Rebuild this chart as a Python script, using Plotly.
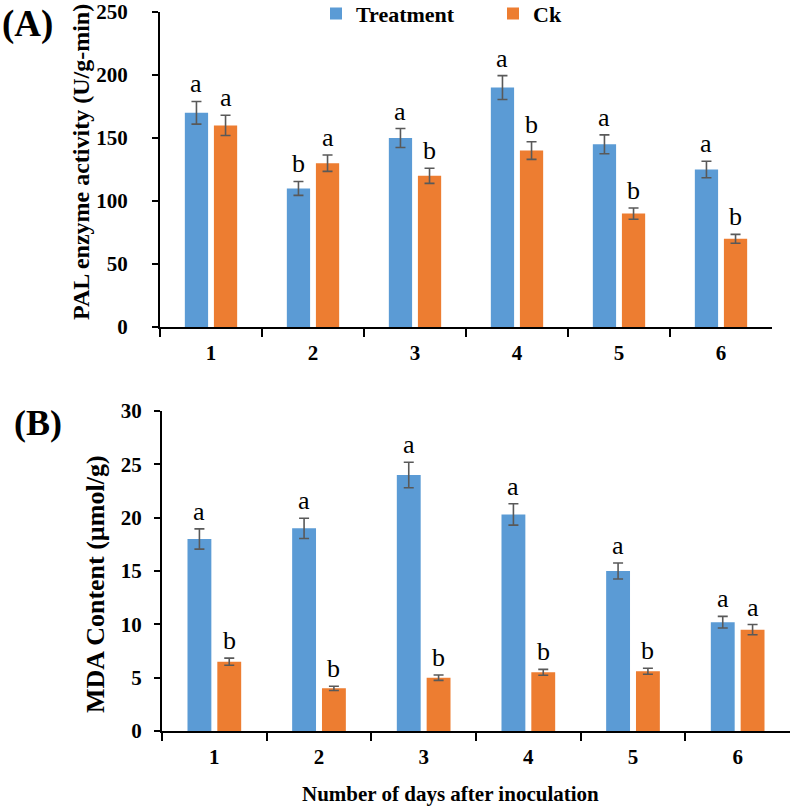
import plotly.graph_objects as go

W, H = 791, 809

days = ["1", "2", "3", "4", "5", "6"]

pal_treat = [170, 110, 150, 190, 145, 125]
pal_ck = [160, 130, 120, 140, 90, 70]
pal_treat_err = [9, 5.5, 7.5, 9.5, 7.5, 6.5]
pal_ck_err = [8, 6.5, 6, 7, 4.5, 3.5]
pal_treat_sig = ["a", "b", "a", "a", "a", "a"]
pal_ck_sig = ["a", "a", "b", "b", "b", "b"]

mda_treat = [18, 19, 24, 20.3, 15, 10.2]
mda_ck = [6.5, 4, 5, 5.5, 5.6, 9.5]
mda_treat_err = [0.95, 0.95, 1.2, 1.0, 0.75, 0.55]
mda_ck_err = [0.33, 0.2, 0.25, 0.28, 0.28, 0.48]
mda_treat_sig = ["a", "a", "a", "a", "a", "a"]
mda_ck_sig = ["b", "b", "b", "b", "b", "a"]

BLUE = "#5B9BD5"
ORANGE = "#ED7D31"
ERR = "#595959"
SERIF = "Liberation Serif, Times New Roman, serif"


def px_x(p):
    return p / W


def px_y(p):
    return 1 - p / H


fig = go.Figure()

for (xa, ya, tv, cv, te, ce, show) in [
    ("x", "y", pal_treat, pal_ck, pal_treat_err, pal_ck_err, True),
    ("x2", "y2", mda_treat, mda_ck, mda_treat_err, mda_ck_err, False),
]:
    fig.add_trace(go.Bar(
        x=days, y=tv, name="Treatment", marker=dict(color=BLUE, line=dict(width=0)),
        error_y=dict(type="data", array=te, color=ERR, thickness=1.6, width=5),
        xaxis=xa, yaxis=ya, showlegend=show, legendgroup="t", offsetgroup="t"))
    fig.add_trace(go.Bar(
        x=days, y=cv, name="Ck", marker=dict(color=ORANGE, line=dict(width=0)),
        error_y=dict(type="data", array=ce, color=ERR, thickness=1.6, width=5),
        xaxis=xa, yaxis=ya, showlegend=show, legendgroup="c", offsetgroup="c"))

BARGAP = 0.43
half = (1 - BARGAP) / 4
annotations = []
for (xr, yr, tv, cv, te, ce, ts, cs) in [
    ("x", "y", pal_treat, pal_ck, pal_treat_err, pal_ck_err, pal_treat_sig, pal_ck_sig),
    ("x2", "y2", mda_treat, mda_ck, mda_treat_err, mda_ck_err, mda_treat_sig, mda_ck_sig),
]:
    for i in range(len(days)):
        for val, err, sig, off in [(tv[i], te[i], ts[i], -half), (cv[i], ce[i], cs[i], half)]:
            annotations.append(dict(
                x=i + off, y=val + err, xref=xr, yref=yr, text=sig, showarrow=False,
                yanchor="bottom", xanchor="center", yshift=1,
                font=dict(family=SERIF, size=26, color="black")))

annotations += [
    dict(x=px_x(27), y=px_y(24), xref="paper", yref="paper", text="<b>(A)</b>", showarrow=False,
         font=dict(family=SERIF, size=37, color="black"), xanchor="center", yanchor="middle"),
    dict(x=px_x(38), y=px_y(423), xref="paper", yref="paper", text="<b>(B)</b>", showarrow=False,
         font=dict(family=SERIF, size=36, color="black"), xanchor="center", yanchor="middle"),
    dict(x=px_x(81), y=px_y(162), xref="paper", yref="paper", text="<b>PAL enzyme activity (U/g-min)</b>",
         showarrow=False, textangle=-90, font=dict(family=SERIF, size=24, color="black"),
         xanchor="center", yanchor="middle"),
    dict(x=px_x(95), y=px_y(584), xref="paper", yref="paper", text="<b>MDA Content (µmol/g)</b>",
         showarrow=False, textangle=-90, font=dict(family=SERIF, size=26, color="black"),
         xanchor="center", yanchor="middle"),
    dict(x=px_x(450), y=px_y(794), xref="paper", yref="paper", text="<b>Number of days after inoculation</b>",
         showarrow=False, font=dict(family=SERIF, size=21, color="black"),
         xanchor="center", yanchor="middle"),
]

tickfont = dict(family=SERIF, size=21, color="black", weight="bold")
xcommon = dict(type="category", tickson="boundaries", ticks="outside", ticklen=8, tickwidth=2,
               tickcolor="black", showline=True, linecolor="black", linewidth=2, showgrid=False,
               tickfont=tickfont, zeroline=False, ticklabelstandoff=6)
ycommon = dict(ticks="outside", ticklen=6, tickwidth=2, tickcolor="black", showline=True,
               linecolor="black", linewidth=2, showgrid=False, tickfont=tickfont, zeroline=False)

fig.update_layout(
    width=W, height=H, margin=dict(l=0, r=0, t=0, b=0, autoexpand=False),
    paper_bgcolor="white", plot_bgcolor="white",
    barmode="group", bargap=BARGAP, bargroupgap=0.2,
    xaxis=dict(domain=[px_x(160), px_x(772)], anchor="y", range=[-0.5, 5.5], **xcommon),
    yaxis=dict(domain=[px_y(327), px_y(12)], anchor="x", range=[0, 250], dtick=50,
               ticklabelstandoff=20, **ycommon),
    xaxis2=dict(domain=[px_x(162), px_x(790)], anchor="y2", range=[-0.5, 5.5], **xcommon),
    yaxis2=dict(domain=[px_y(731), px_y(411)], anchor="x2", range=[0, 30], dtick=5,
                ticklabelstandoff=8, **ycommon),
    legend=dict(orientation="h", x=px_x(316), y=1.009, xanchor="left", yanchor="top",
                font=dict(family=SERIF, size=22, color="black", weight="bold"),
                entrywidth=132, entrywidthmode="pixels", bgcolor="rgba(0,0,0,0)"),
    annotations=annotations,
)

fig.write_html("out.html")
